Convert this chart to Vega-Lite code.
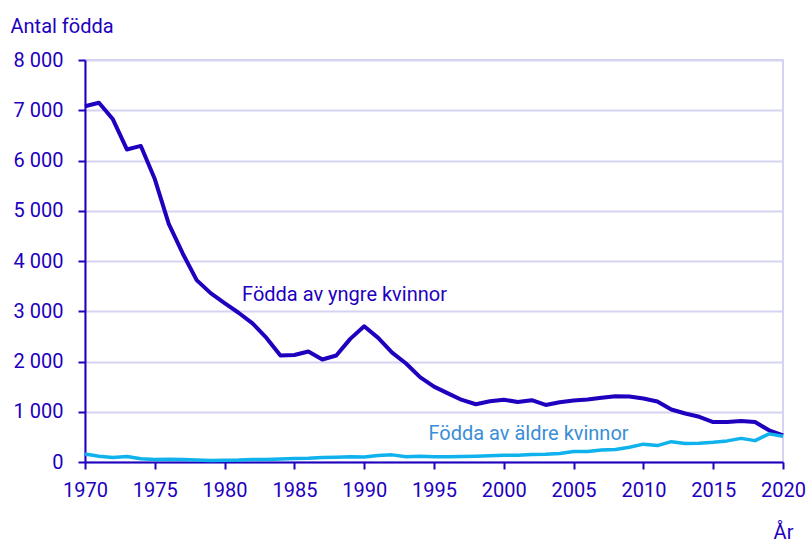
{
  "$schema": "https://vega.github.io/schema/vega-lite/v6.json",
  "width": 698,
  "height": 402,
  "autosize": {"type": "none"},
  "padding": {"left": 85, "top": 60, "right": 27, "bottom": 80},
  "background": "white",
  "config": {
    "locale": {"number": {"decimal": ",", "thousands": " ", "grouping": [3], "currency": ["", " kr"]}},
    "view": {"stroke": "#d4d4f2", "strokeWidth": 2},
    "font": "Roboto",
    "axis": {
      "labelFont": "Roboto",
      "labelFontSize": 20,
      "labelColor": "#1e00be",
      "titleFont": "Roboto",
      "titleFontSize": 20,
      "titleFontWeight": "normal",
      "titleColor": "#1e00be",
      "domainColor": "#1e00be",
      "domainWidth": 2,
      "tickColor": "#1e00be",
      "tickWidth": 2,
      "tickSize": 7,
      "gridColor": "#d4d4f2",
      "gridWidth": 2
    }
  },
  "data": {
    "values": [
      {"year": 1970, "serie": "yngre", "value": 7080}, {"year": 1971, "serie": "yngre", "value": 7150},
      {"year": 1972, "serie": "yngre", "value": 6820}, {"year": 1973, "serie": "yngre", "value": 6220},
      {"year": 1974, "serie": "yngre", "value": 6290}, {"year": 1975, "serie": "yngre", "value": 5630},
      {"year": 1976, "serie": "yngre", "value": 4740}, {"year": 1977, "serie": "yngre", "value": 4150},
      {"year": 1978, "serie": "yngre", "value": 3620}, {"year": 1979, "serie": "yngre", "value": 3360},
      {"year": 1980, "serie": "yngre", "value": 3160}, {"year": 1981, "serie": "yngre", "value": 2970},
      {"year": 1982, "serie": "yngre", "value": 2760}, {"year": 1983, "serie": "yngre", "value": 2470},
      {"year": 1984, "serie": "yngre", "value": 2120}, {"year": 1985, "serie": "yngre", "value": 2130},
      {"year": 1986, "serie": "yngre", "value": 2200}, {"year": 1987, "serie": "yngre", "value": 2040},
      {"year": 1988, "serie": "yngre", "value": 2120}, {"year": 1989, "serie": "yngre", "value": 2450},
      {"year": 1990, "serie": "yngre", "value": 2700}, {"year": 1991, "serie": "yngre", "value": 2470},
      {"year": 1992, "serie": "yngre", "value": 2175}, {"year": 1993, "serie": "yngre", "value": 1960},
      {"year": 1994, "serie": "yngre", "value": 1690}, {"year": 1995, "serie": "yngre", "value": 1500},
      {"year": 1996, "serie": "yngre", "value": 1365}, {"year": 1997, "serie": "yngre", "value": 1235},
      {"year": 1998, "serie": "yngre", "value": 1150}, {"year": 1999, "serie": "yngre", "value": 1210},
      {"year": 2000, "serie": "yngre", "value": 1240}, {"year": 2001, "serie": "yngre", "value": 1195},
      {"year": 2002, "serie": "yngre", "value": 1230}, {"year": 2003, "serie": "yngre", "value": 1135},
      {"year": 2004, "serie": "yngre", "value": 1190}, {"year": 2005, "serie": "yngre", "value": 1225},
      {"year": 2006, "serie": "yngre", "value": 1245}, {"year": 2007, "serie": "yngre", "value": 1280},
      {"year": 2008, "serie": "yngre", "value": 1310}, {"year": 2009, "serie": "yngre", "value": 1305},
      {"year": 2010, "serie": "yngre", "value": 1265}, {"year": 2011, "serie": "yngre", "value": 1205},
      {"year": 2012, "serie": "yngre", "value": 1045}, {"year": 2013, "serie": "yngre", "value": 965},
      {"year": 2014, "serie": "yngre", "value": 900}, {"year": 2015, "serie": "yngre", "value": 795},
      {"year": 2016, "serie": "yngre", "value": 795}, {"year": 2017, "serie": "yngre", "value": 815},
      {"year": 2018, "serie": "yngre", "value": 795}, {"year": 2019, "serie": "yngre", "value": 630},
      {"year": 2020, "serie": "yngre", "value": 530},
      {"year": 1970, "serie": "äldre", "value": 160}, {"year": 1971, "serie": "äldre", "value": 115},
      {"year": 1972, "serie": "äldre", "value": 90}, {"year": 1973, "serie": "äldre", "value": 110},
      {"year": 1974, "serie": "äldre", "value": 65}, {"year": 1975, "serie": "äldre", "value": 50},
      {"year": 1976, "serie": "äldre", "value": 55}, {"year": 1977, "serie": "äldre", "value": 50},
      {"year": 1978, "serie": "äldre", "value": 40}, {"year": 1979, "serie": "äldre", "value": 30},
      {"year": 1980, "serie": "äldre", "value": 37}, {"year": 1981, "serie": "äldre", "value": 40},
      {"year": 1982, "serie": "äldre", "value": 50}, {"year": 1983, "serie": "äldre", "value": 50},
      {"year": 1984, "serie": "äldre", "value": 60}, {"year": 1985, "serie": "äldre", "value": 70},
      {"year": 1986, "serie": "äldre", "value": 75}, {"year": 1987, "serie": "äldre", "value": 90},
      {"year": 1988, "serie": "äldre", "value": 95}, {"year": 1989, "serie": "äldre", "value": 103},
      {"year": 1990, "serie": "äldre", "value": 98}, {"year": 1991, "serie": "äldre", "value": 130},
      {"year": 1992, "serie": "äldre", "value": 142}, {"year": 1993, "serie": "äldre", "value": 105},
      {"year": 1994, "serie": "äldre", "value": 115}, {"year": 1995, "serie": "äldre", "value": 105},
      {"year": 1996, "serie": "äldre", "value": 105}, {"year": 1997, "serie": "äldre", "value": 110},
      {"year": 1998, "serie": "äldre", "value": 115}, {"year": 1999, "serie": "äldre", "value": 122},
      {"year": 2000, "serie": "äldre", "value": 135}, {"year": 2001, "serie": "äldre", "value": 135},
      {"year": 2002, "serie": "äldre", "value": 150}, {"year": 2003, "serie": "äldre", "value": 155},
      {"year": 2004, "serie": "äldre", "value": 168}, {"year": 2005, "serie": "äldre", "value": 210},
      {"year": 2006, "serie": "äldre", "value": 208}, {"year": 2007, "serie": "äldre", "value": 240},
      {"year": 2008, "serie": "äldre", "value": 247}, {"year": 2009, "serie": "äldre", "value": 295},
      {"year": 2010, "serie": "äldre", "value": 355}, {"year": 2011, "serie": "äldre", "value": 327},
      {"year": 2012, "serie": "äldre", "value": 405}, {"year": 2013, "serie": "äldre", "value": 367},
      {"year": 2014, "serie": "äldre", "value": 373}, {"year": 2015, "serie": "äldre", "value": 393},
      {"year": 2016, "serie": "äldre", "value": 420}, {"year": 2017, "serie": "äldre", "value": 470},
      {"year": 2018, "serie": "äldre", "value": 425}, {"year": 2019, "serie": "äldre", "value": 560},
      {"year": 2020, "serie": "äldre", "value": 511}
    ]
  },
  "encoding": {
    "x": {
      "field": "year", "type": "quantitative",
      "scale": {"domain": [1970, 2020], "nice": false, "zero": false},
      "axis": {
        "values": [1970, 1975, 1980, 1985, 1990, 1995, 2000, 2005, 2010, 2015, 2020],
        "format": "d", "grid": false, "labelPadding": 11, "labelFlush": false,
        "title": "År", "titleAngle": 0, "titleX": 698, "titleY": 76, "titleAlign": "center", "titleBaseline": "alphabetic"
      }
    },
    "y": {
      "field": "value", "type": "quantitative",
      "scale": {"domain": [0, 8000], "nice": false},
      "axis": {
        "values": [0, 1000, 2000, 3000, 4000, 5000, 6000, 7000, 8000],
        "format": ",d", "grid": true, "labelPadding": 15,
        "title": "Antal födda", "titleAngle": 0, "titleX": -75, "titleY": -28, "titleAlign": "left", "titleBaseline": "alphabetic"
      }
    }
  },
  "layer": [
    {
      "transform": [{"filter": "datum.serie === 'yngre'"}],
      "mark": {"type": "line", "color": "#1e00be", "strokeWidth": 4, "strokeJoin": "round"}
    },
    {
      "transform": [{"filter": "datum.serie === 'äldre'"}],
      "mark": {"type": "line", "color": "#0fb2ec", "strokeWidth": 3.5, "strokeJoin": "round"}
    },
    {
      "data": {"values": [
        {"label": "Födda av yngre kvinnor", "year": 1981.25, "value": 3195, "serie": "yngre"},
        {"label": "Födda av äldre kvinnor", "year": 1994.6, "value": 437, "serie": "äldre"}
      ]},
      "mark": {"type": "text", "align": "left", "baseline": "alphabetic", "font": "Roboto", "fontSize": 20},
      "encoding": {
        "text": {"field": "label"},
        "color": {"field": "serie", "type": "nominal", "scale": {"domain": ["yngre", "äldre"], "range": ["#1e00be", "#3a8ed6"]}, "legend": null}
      }
    }
  ]
}
